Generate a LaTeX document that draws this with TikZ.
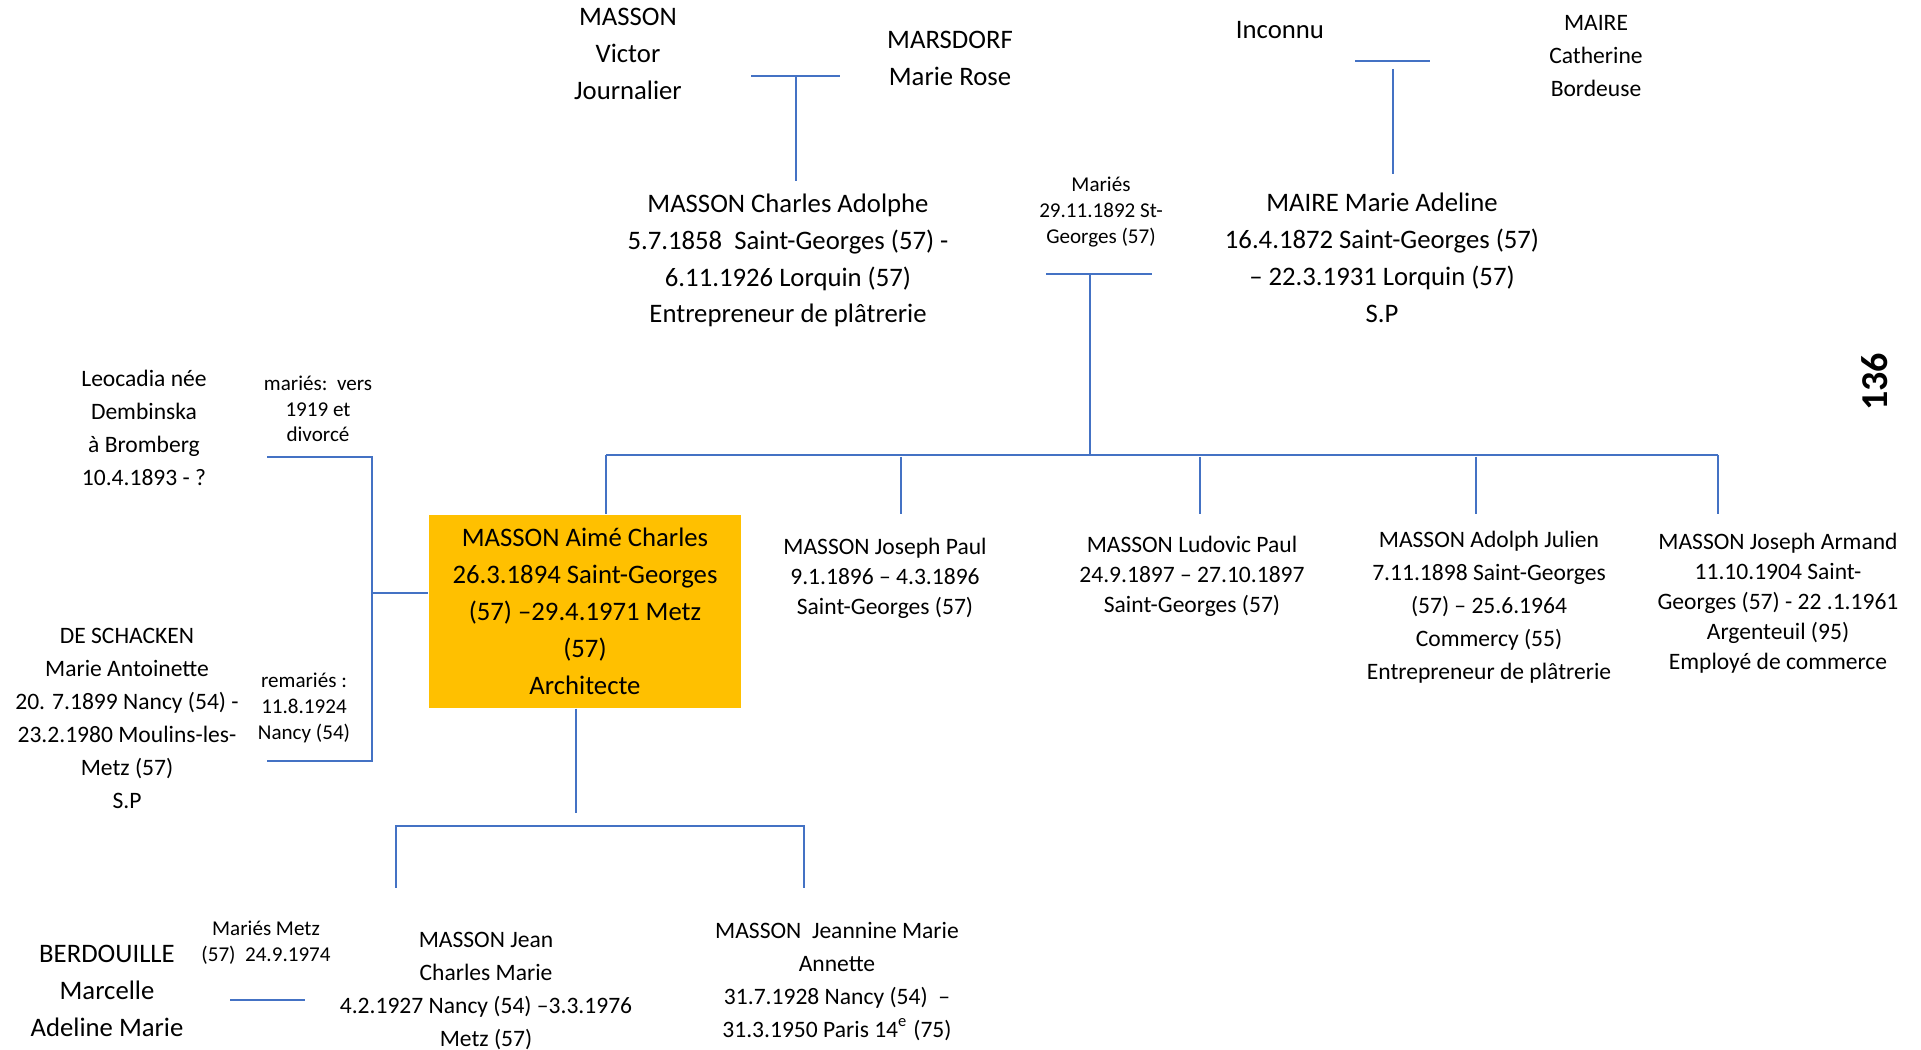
\documentclass[tikz,border=0pt]{standalone}
\usepackage{fontspec}
\setmainfont{Carlito}
\definecolor{lineblue}{HTML}{4472C4}
\definecolor{boxgold}{HTML}{FFC000}
\begin{document}
\begin{tikzpicture}[font=\fontsize{7.6}{10.5}\selectfont,
  elder/.style={align=center,inner sep=0pt},
  person/.style={align=center,inner sep=0pt,font=\fontsize{6.7}{9.4}\selectfont},
  sibling/.style={align=center,inner sep=0pt,font=\fontsize{6.7}{8.5}\selectfont},
  note/.style={align=center,inner sep=0pt,font=\fontsize{6}{7.3}\selectfont},
  link/.style={draw=lineblue,line width=.6pt}]
\useasboundingbox (0,0) rectangle (19.21,10.5);
\node[elder] (victor) at (6.28,9.96) {MASSON\\Victor\\Journalier};
\node[elder] (marsdorf) at (9.50,9.92) {MARSDORF\\Marie Rose};
\node[elder] (charles) at (7.88,7.895) {MASSON Charles Adolphe\\5.7.1858~~Saint-Georges (57) -\\6.11.1926 Lorquin (57)\\Entrepreneur de plâtrerie};
\node[elder] (inconnu) at (12.80,10.20) {Inconnu};
\node[person] (catherine) at (15.96,9.94) {MAIRE\\Catherine\\Bordeuse};
\node[elder] (adeline) at (13.82,7.92) {MAIRE Marie Adeline\\16.4.1872 Saint-Georges (57)\\– 22.3.1931 Lorquin (57)\\S.P};
\node[note] (maries) at (11.01,8.38) {Mariés\\29.11.1892 St-\\Georges (57)};
\node[person] (leocadia) at (1.44,6.22) {Leocadia née\\Dembinska\\à Bromberg\\10.4.1893 - ?};
\node[note] (vers) at (3.18,6.41) {mariés:~~vers\\1919 et\\divorcé};
\node[person] (schacken) at (1.27,3.315) {DE SCHACKEN\\Marie Antoinette\\20. 7.1899 Nancy (54) -\\23.2.1980 Moulins-les-\\Metz (57)\\S.P};
\node[note] (remaries) at (3.04,3.42) {remariés :\\11.8.1924\\Nancy (54)};
\node[elder,fill=boxgold,minimum width=3.12cm,minimum height=1.93cm] (aime) at (5.85,4.385) {MASSON Aimé Charles\\26.3.1894 Saint-Georges\\(57) –29.4.1971 Metz\\(57)\\Architecte};
\node[sibling] (josephpaul) at (8.85,4.72) {MASSON Joseph Paul\\9.1.1896 – 4.3.1896\\Saint-Georges (57)};
\node[sibling] (ludovic) at (11.92,4.74) {MASSON Ludovic Paul\\24.9.1897 – 27.10.1897\\Saint-Georges (57)};
\node[person] (adolph) at (14.89,4.425) {MASSON Adolph Julien\\7.11.1898 Saint-Georges\\(57) – 25.6.1964\\Commercy (55)\\Entrepreneur de plâtrerie};
\node[sibling] (armand) at (17.78,4.47) {MASSON Joseph Armand\\11.10.1904 Saint-\\Georges (57) - 22 .1.1961\\Argenteuil (95)\\Employé de commerce};
\node[elder] (berdouille) at (1.07,0.59) {BERDOUILLE\\Marcelle\\Adeline Marie};
\node[note] (mariesmetz) at (2.66,1.075) {Mariés Metz\\(57)~~24.9.1974};
\node[person] (jean) at (4.86,0.59) {MASSON Jean\\Charles Marie\\4.2.1927 Nancy (54) –3.3.1976\\Metz (57)};
\node[person] (jeannine) at (8.37,0.685) {MASSON~~Jeannine Marie\\Annette\\31.7.1928 Nancy (54)~~–\\31.3.1950 Paris 14\textsuperscript{e} (75)};
\node[rotate=90,inner sep=0pt,font=\fontsize{10.8}{13}\selectfont\bfseries] (page) at (18.75,6.68) {136};
\coordinate (v1) at (7.51,9.74); \coordinate (v2) at (8.40,9.74);
\coordinate (v3) at (7.96,9.74); \coordinate (v4) at (7.96,8.69);
\draw[link] (v1) -- (v2); \draw[link] (v3) -- (v4);
\coordinate (i1) at (13.55,9.89); \coordinate (i2) at (14.30,9.89);
\coordinate (i3) at (13.93,9.81); \coordinate (i4) at (13.93,8.76);
\draw[link] (i1) -- (i2); \draw[link] (i3) -- (i4);
\coordinate (m1) at (10.46,7.76); \coordinate (m2) at (11.52,7.76);
\coordinate (m3) at (10.90,7.76); \coordinate (m4) at (10.90,5.95);
\draw[link] (m1) -- (m2); \draw[link] (m3) -- (m4);
\coordinate (s1) at (6.06,5.95); \coordinate (s5) at (17.18,5.95);
\coordinate (s2) at (9.01,5.93); \coordinate (s3) at (12.00,5.93); \coordinate (s4) at (14.76,5.93);
\draw[link] (s1) -- (s5);
\draw[link] (s1) -- (s1 |- aime.north); \draw[link] (s2) -- (s2 |- aime.north); \draw[link] (s3) -- (s3 |- aime.north);
\draw[link] (s4) -- (s4 |- aime.north); \draw[link] (s5) -- (s5 |- aime.north);
\coordinate (b1) at (2.67,5.93); \coordinate (b2) at (3.72,5.93); \coordinate (b3) at (3.72,2.89);
\coordinate (b4) at (2.67,2.89); \coordinate (b5) at (3.72,4.57);
\draw[link] (b1) -- (b2) -- (b3) -- (b4); \draw[link] (b5) -- (b5 -| aime.west);
\coordinate (c0) at (5.76,2.37);
\draw[link] (c0 |- aime.south) -- (c0);
\coordinate (c1) at (3.96,1.62); \coordinate (c2) at (3.96,2.24); \coordinate (c3) at (8.04,2.24); \coordinate (c4) at (8.04,1.62);
\draw[link] (c1) -- (c2) -- (c3) -- (c4);
\coordinate (w1) at (2.30,0.50); \coordinate (w2) at (3.05,0.50);
\draw[link] (w1) -- (w2);
\end{tikzpicture}
\end{document}
